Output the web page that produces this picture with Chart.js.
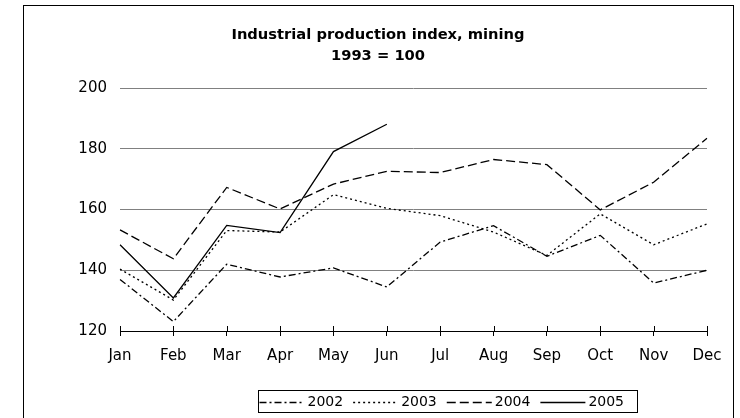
<!DOCTYPE html>
<html>
<head>
<meta charset="utf-8">
<script src="https://cdn.jsdelivr.net/npm/chart.js@4"></script>
<style>
  body { margin: 0; background: #fff; }
  canvas { display: block; }
</style>
</head>
<body>
<canvas id="chart" width="740" height="418"></canvas>
<script>
const months = ['Jan', 'Feb', 'Mar', 'Apr', 'May', 'Jun', 'Jul', 'Aug', 'Sep', 'Oct', 'Nov', 'Dec'];
const years = ['2002', '2003', '2004', '2005'];
const values2002 = [137.0, 123.1, 142.0, 137.8, 140.8, 134.5, 149.3, 154.7, 144.6, 151.5, 135.8, 140.0];
const values2003 = [140.4, 130.2, 153.1, 152.6, 164.9, 160.4, 158.0, 152.6, 144.9, 158.6, 148.4, 155.3];
const values2004 = [153.3, 143.8, 167.3, 160.2, 168.4, 172.6, 172.2, 176.5, 174.8, 159.9, 169.0, 183.5];
const values2005 = [148.4, 130.9, 154.8, 152.4, 179.1, 188.1];
const yMin = 120, yMax = 200, yStep = 20;
const titleLines = ['Industrial production index, mining', '1993 = 100'];

const dashes = [[7, 3, 2, 3], [2, 3], [9, 4], []];
const series = [values2002, values2003, values2004, values2005];

Chart.defaults.font.family = '"DejaVu Sans", sans-serif';
Chart.defaults.color = '#000';

// frame, crossing tick marks and the boxed legend at the bottom
const framePlugin = {
  id: 'framePlugin',
  afterDraw(chart) {
    const ctx = chart.ctx;
    const xs = chart.scales.x;
    const bottom = chart.chartArea.bottom;
    ctx.save();
    ctx.strokeStyle = '#000';
    ctx.lineWidth = 1;
    ctx.setLineDash([]);
    ctx.strokeRect(23.5, 5.5, 710, 440);

    ctx.beginPath();
    xs.ticks.forEach((t, i) => {
      const px = Math.round(xs.getPixelForTick(i)) + 0.5;
      ctx.moveTo(px, bottom - 5);
      ctx.lineTo(px, bottom);
    });
    ctx.stroke();

    // legend
    ctx.font = '14px "DejaVu Sans", sans-serif';
    ctx.textBaseline = 'middle';
    ctx.textAlign = 'left';
    const lineLen = 45, gap = 3, itemGap = 10;
    const boxLeft = 258.5, boxTop = 390.5, boxH = 22;
    const cy = boxTop + boxH / 2;
    let x = boxLeft + 1;
    chart.data.datasets.forEach(ds => {
      ctx.setLineDash(ds.borderDash || []);
      ctx.lineWidth = ds.borderWidth;
      ctx.beginPath();
      ctx.moveTo(x, Math.round(cy) + 0.5);
      ctx.lineTo(x + lineLen, Math.round(cy) + 0.5);
      ctx.stroke();
      x += lineLen + gap;
      ctx.fillText(ds.label, x, cy + 1);
      x += ctx.measureText(ds.label).width + itemGap;
    });
    ctx.setLineDash([]);
    ctx.lineWidth = 1;
    ctx.strokeRect(boxLeft, boxTop, Math.round(x - boxLeft + 3), boxH);
    ctx.restore();
  }
};

new Chart(document.getElementById('chart'), {
  type: 'line',
  data: {
    labels: months,
    datasets: years.map((y, i) => ({
      label: y,
      data: series[i],
      borderColor: '#000',
      borderWidth: 1.3,
      borderDash: dashes[i],
      pointRadius: 0,
      tension: 0,
      fill: false
    }))
  },
  options: {
    responsive: false,
    animation: false,
    devicePixelRatio: 1,
    layout: { padding: { left: 49, right: 33, top: 0, bottom: 50 } },
    plugins: {
      legend: { display: false },
      tooltip: { enabled: false },
      title: {
        display: true,
        text: titleLines,
        color: '#000',
        font: { size: 14.7, weight: 'bold', lineHeight: 1.4 },
        padding: { top: 25, bottom: 22 }
      }
    },
    scales: {
      x: {
        offset: false,
        afterFit: s => { s.height = 37; },
        grid: { drawOnChartArea: false, drawTicks: true, tickLength: 5, tickColor: '#000' },
        border: { display: true, color: '#000', width: 1 },
        ticks: { font: { size: 15 }, padding: 11, maxRotation: 0, autoSkip: false }
      },
      y: {
        min: yMin,
        max: yMax,
        afterFit: s => { s.width = 71; },
        grid: { color: '#808080', drawTicks: false },
        border: { display: false },
        ticks: { stepSize: yStep, font: { size: 15 }, padding: 13 }
      }
    }
  },
  plugins: [framePlugin]
});
</script>
</body>
</html>
